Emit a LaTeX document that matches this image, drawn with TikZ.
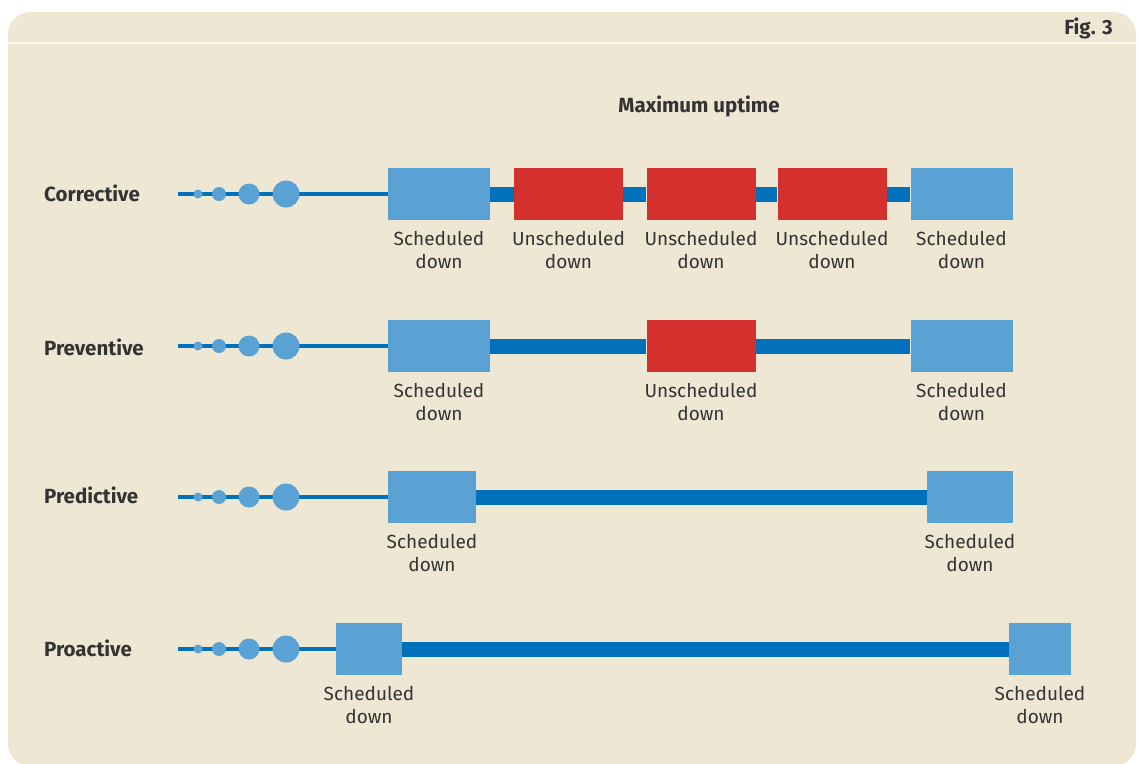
\documentclass[tikz,border=0pt]{standalone}
\usepackage{fontspec}
\setmainfont{Fira Sans}
\usepackage{tikz}
\usetikzlibrary{positioning}
\definecolor{paper}{HTML}{EEE7D4}
\definecolor{rule}{HTML}{FAF6EC}
\definecolor{lightblue}{HTML}{5AA2D4}
\definecolor{darkblue}{HTML}{0071BA}
\definecolor{downred}{HTML}{D3302E}
\definecolor{ink}{HTML}{333333}
\tikzstyle{sched} = [rectangle, fill=lightblue, inner sep=0pt, minimum height=52pt]
\tikzstyle{unsched} = [rectangle, fill=downred, inner sep=0pt, minimum height=52pt, minimum width=109pt]
\tikzstyle{bubble} = [circle, fill=lightblue, inner sep=0pt]
\tikzstyle{caption} = [text=ink, align=center, inner sep=0pt, font=\fontsize{19}{23}\selectfont]
\tikzstyle{rowlabel} = [text=ink, anchor=west, inner sep=0pt, font=\fontsize{20.5}{24}\selectfont\bfseries]
\tikzstyle{thinline} = [darkblue, line width=4pt]
\tikzstyle{thickbar} = [darkblue, line width=15pt]

\begin{document}
\begin{tikzpicture}[x=1pt, y=1pt]
    \useasboundingbox (0,0) rectangle (1140,-763);
    % Panel
    \fill [paper, rounded corners=22pt] (8,-12) rectangle (1136,-766);
    \draw [rule, line width=2pt] (8,-43) -- (1136,-43);
    \node [rowlabel, anchor=east] (fig) at (1113,-28) {Fig. 3};
    \node [rowlabel, anchor=center] (title) at (699,-106) {Maximum uptime};

    % Corrective
    \node [rowlabel] (corrective) at (44,-193) {Corrective};
    \coordinate (c0) at (178,-194);
    \node [sched, minimum width=102pt] (c1) at (439,-194) {};
    \node [unsched] (c2) at (568.5,-194) {};
    \node [unsched] (c3) at (701,-194) {};
    \node [unsched] (c4) at (832,-194) {};
    \node [sched, minimum width=102pt] (c5) at (961.5,-194) {};
    \draw [thinline] (c0) -- (c1);
    \draw [thickbar] (c1) -- (c2);
    \draw [thickbar] (c2) -- (c3);
    \draw [thickbar] (c3) -- (c4);
    \draw [thickbar] (c4) -- (c5);
    \node [bubble, minimum size=9pt] (cb1) at (198,-194) {};
    \node [bubble, minimum size=14pt] (cb2) at (219,-194) {};
    \node [bubble, minimum size=21pt] (cb3) at (249,-194) {};
    \node [bubble, minimum size=27pt] (cb4) at (286,-194) {};
    \node [caption, below=11pt of c1] {Scheduled\\down};
    \node [caption, below=11pt of c2] {Unscheduled\\down};
    \node [caption, below=11pt of c3] {Unscheduled\\down};
    \node [caption, below=11pt of c4] {Unscheduled\\down};
    \node [caption, below=11pt of c5] {Scheduled\\down};

    % Preventive
    \node [rowlabel] (preventive) at (44,-347) {Preventive};
    \coordinate (v0) at (178,-346);
    \node [sched, minimum width=102pt] (v1) at (439,-346) {};
    \node [unsched] (v2) at (701,-346) {};
    \node [sched, minimum width=102pt] (v3) at (961.5,-346) {};
    \draw [thinline] (v0) -- (v1);
    \draw [thickbar] (v1) -- (v2);
    \draw [thickbar] (v2) -- (v3);
    \node [bubble, minimum size=9pt] (vb1) at (198,-346) {};
    \node [bubble, minimum size=14pt] (vb2) at (219,-346) {};
    \node [bubble, minimum size=21pt] (vb3) at (249,-346) {};
    \node [bubble, minimum size=27pt] (vb4) at (286,-346) {};
    \node [caption, below=11pt of v1] {Scheduled\\down};
    \node [caption, below=11pt of v2] {Unscheduled\\down};
    \node [caption, below=11pt of v3] {Scheduled\\down};

    % Predictive
    \node [rowlabel] (predictive) at (44,-495) {Predictive};
    \coordinate (p0) at (178,-497);
    \node [sched, minimum width=88pt] (p1) at (432,-497) {};
    \node [sched, minimum width=86pt] (p2) at (970,-497) {};
    \draw [thinline] (p0) -- (p1);
    \draw [thickbar] (p1) -- (p2);
    \node [bubble, minimum size=9pt] (pb1) at (198,-497) {};
    \node [bubble, minimum size=14pt] (pb2) at (219,-497) {};
    \node [bubble, minimum size=21pt] (pb3) at (249,-497) {};
    \node [bubble, minimum size=27pt] (pb4) at (286,-497) {};
    \node [caption, below=11pt of p1] {Scheduled\\down};
    \node [caption, below=11pt of p2] {Scheduled\\down};

    % Proactive
    \node [rowlabel] (proactive) at (44,-648) {Proactive};
    \coordinate (a0) at (178,-649);
    \node [sched, minimum width=66pt] (a1) at (369,-649) {};
    \node [sched, minimum width=62pt] (a2) at (1040,-649) {};
    \draw [thinline] (a0) -- (a1);
    \draw [thickbar] (a1) -- (a2);
    \node [bubble, minimum size=9pt] (ab1) at (198,-649) {};
    \node [bubble, minimum size=14pt] (ab2) at (219,-649) {};
    \node [bubble, minimum size=21pt] (ab3) at (249,-649) {};
    \node [bubble, minimum size=27pt] (ab4) at (286,-649) {};
    \node [caption, below=11pt of a1] {Scheduled\\down};
    \node [caption, below=11pt of a2] {Scheduled\\down};
\end{tikzpicture}
\end{document}
